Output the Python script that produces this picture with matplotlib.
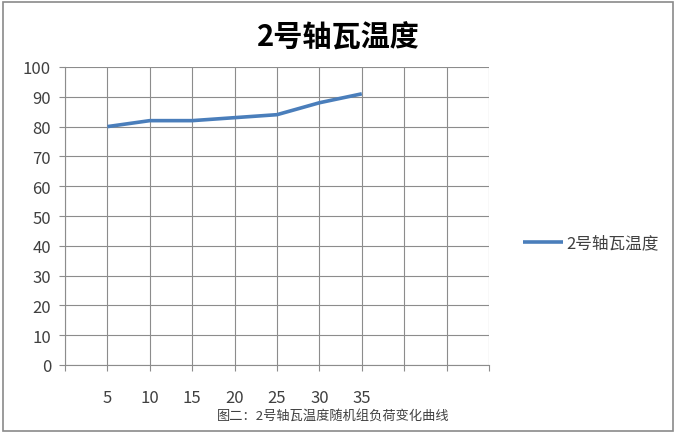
"""Line chart: bearing temperature vs load."""

import matplotlib
matplotlib.use('Agg')
import matplotlib.pyplot as plt
from matplotlib.patches import Rectangle

plt.rcParams['font.family'] = ['Noto Sans CJK SC', 'DejaVu Sans']

# data
loads = ['5', '10', '15', '20', '25', '30', '35']
temperature = [80, 82, 82, 83, 84, 88, 91]
series_name = '2号轴瓦温度'
title = '2号轴瓦温度'
caption = '图二：2号轴瓦温度随机组负荷变化曲线'
n_slots = 10

LINE = '#4a7ebb'
GRID = '#8c8c8c'
TEXT = '#404040'

fig = plt.figure(figsize=(6.76, 4.35), dpi=100)
ax = fig.add_axes([65 / 676, 1 - 366 / 435, 424 / 676, 298 / 435])

x = list(range(1, len(loads) + 1))
ax.plot(x, temperature, color=LINE, linewidth=2.6, label=series_name,
        solid_capstyle='butt')

ax.set_xlim(0, n_slots)
ax.set_ylim(0, 100)
ax.set_xticks(range(0, n_slots + 1))
ax.set_xticklabels([''] + loads + [''] * (n_slots - len(loads)))
ax.set_yticks(range(0, 101, 10))

ax.grid(True, color=GRID, linewidth=0.8)
ax.set_axisbelow(True)
for side in ['top', 'right']:
    ax.spines[side].set_visible(False)
for side in ['left', 'bottom']:
    ax.spines[side].set_color(GRID)
    ax.spines[side].set_linewidth(0.8)
ax.tick_params(axis='both', colors=GRID, length=4, width=0.8,
               labelcolor=TEXT, labelsize=12)
ax.tick_params(axis='x', pad=13)
ax.tick_params(axis='y', pad=6)

fig.text(338 / 676, 1 - 38 / 435, title, ha='center', va='center',
         fontsize=21, fontweight='bold', color='black')

ax.legend(loc='center left', bbox_to_anchor=(508 / 676, 1 - 244 / 435),
          bbox_transform=fig.transFigure, frameon=False, fontsize=12,
          handlelength=2.4, handletextpad=0.2, labelcolor=TEXT)

fig.text(333 / 676, 1 - 417 / 435, caption, ha='center', va='center',
         fontsize=9.5, color=TEXT)

fig.patches.append(Rectangle((3 / 676, 3 / 435), 670 / 676, 429 / 435,
                             transform=fig.transFigure, fill=False,
                             edgecolor='#8a8a8a', linewidth=1.2))

fig.savefig('out.png', dpi=100)
